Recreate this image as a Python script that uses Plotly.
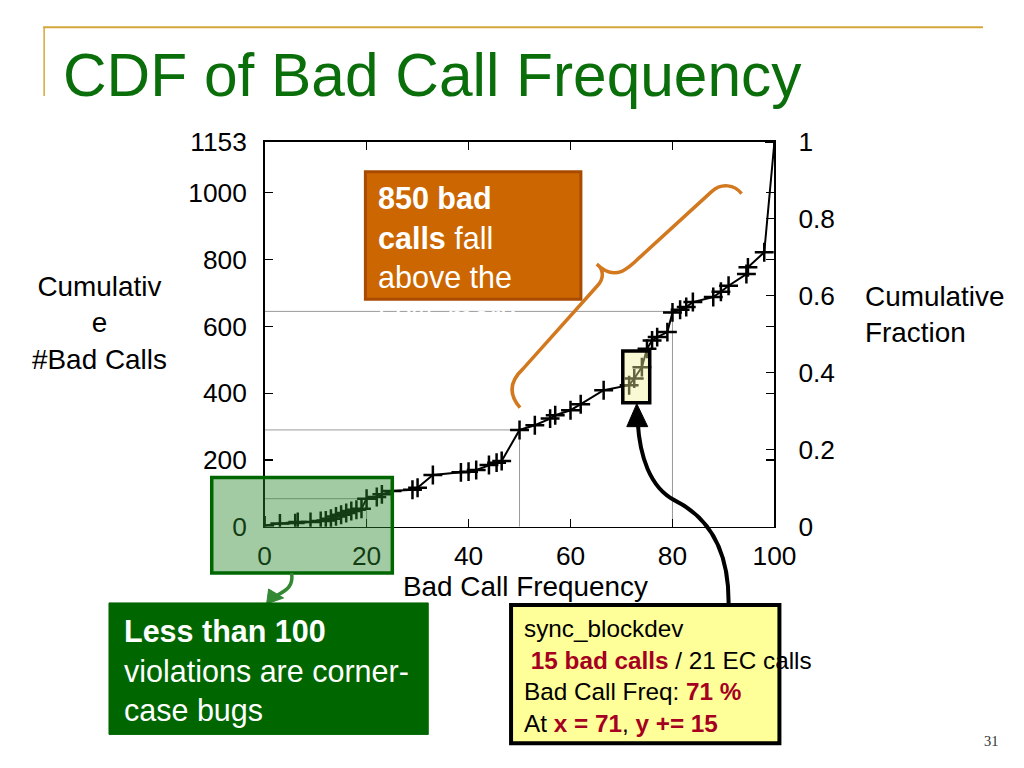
import plotly.graph_objects as go

# ---------------- data ----------------
freq = [0, 3, 6, 6.5, 9, 11, 12, 13, 14, 15, 16, 17, 18, 19, 20, 22, 23, 25, 29, 30,
        33, 38.5, 40, 41.5, 44, 45.5, 46.5, 50, 53, 56, 57, 60, 62, 66.5, 71.5, 72.5,
        74, 75, 76, 77, 79, 80, 81.5, 82.7, 84, 88, 89.5, 91, 94.5, 94.8, 98, 100]
cum_calls = [4, 10, 11, 14, 14, 17, 19, 24, 31, 36, 41, 47, 51, 54, 84, 89, 97, 107, 111, 117,
             155, 163, 165, 170, 185, 192, 197, 290, 304, 324, 334, 349, 367, 409, 424, 444,
             478, 533, 558, 568, 583, 642, 650, 658, 673, 688, 704, 722, 757, 777, 822, 1153]
total_calls = 1153
x_ticks = [0, 20, 40, 60, 80, 100]
y_left_ticks = [0, 200, 400, 600, 800, 1000, 1153]
y_right_ticks = [0, 0.2, 0.4, 0.6, 0.8, 1]
y_right_labels = ["0", "0.2", "0.4", "0.6", "0.8", "1"]
ref_x = [20, 50, 80]
ref_y = [84, 290, 645]

# ---------------- layout helpers ----------------
# Figure fits inside the window with the default 8px body margin.
OFF = 8
W, H = 1024 - 2 * OFF, 768 - 2 * OFF
# calibration of the photographed page (measured): shot = O + S * page
SX, OX = 0.9735, 6.0
SY, OY = 0.964, 13.0
S = (SX + SY) / 2
FONT = "Liberation Sans, Arial, Helvetica, sans-serif"


def px(x):
    return ((x - OX) / SX - OFF) / W


def py(y):
    return 1 - ((y - OY) / SY - OFF) / H


def fs(v):
    return round(v / S, 1)


def svg(segs):
    out = []
    for cmd, pts in segs:
        if not pts:
            out.append(cmd)
            continue
        if cmd == "C":
            out.append("C " + " ".join(f"{px(a):.5f},{py(b):.5f}" for a, b in pts))
        else:
            for a, b in pts:
                out.append(f"{cmd} {px(a):.5f},{py(b):.5f}")
    return " ".join(out)


fig = go.Figure()

fig.add_trace(go.Scatter(
    x=freq, y=cum_calls, mode="lines+markers",
    line=dict(color="black", width=2),
    marker=dict(symbol="cross-thin", size=13.5, line=dict(width=2.5, color="black")),
    showlegend=False, hoverinfo="skip", xaxis="x", yaxis="y"))

fig.add_trace(go.Scatter(
    x=freq, y=[c / total_calls for c in cum_calls], mode="lines",
    line=dict(width=0, color="rgba(0,0,0,0)"),
    showlegend=False, hoverinfo="skip", xaxis="x", yaxis="y2"))

shapes = []
# grey reference lines (data coords)
for rx, ry in zip(ref_x, ref_y):
    shapes.append(dict(type="line", xref="x", yref="y", x0=0, x1=rx, y0=ry, y1=ry,
                       line=dict(color="#9a9a9a", width=1), layer="below"))
    shapes.append(dict(type="line", xref="x", yref="y", x0=rx, x1=rx, y0=0, y1=ry,
                       line=dict(color="#9a9a9a", width=1), layer="below"))

# gold header lines
shapes.append(dict(type="line", xref="paper", yref="paper", x0=px(42), x1=px(984),
                   y0=py(25), y1=py(25), line=dict(color="#D4A73A", width=2)))
shapes.append(dict(type="line", xref="paper", yref="paper", x0=px(43), x1=px(43),
                   y0=py(25), y1=py(94), line=dict(color="#D4A73A", width=1.5)))

# orange box
shapes.append(dict(type="rect", xref="paper", yref="paper", x0=px(365), x1=px(581),
                   y0=py(298), y1=py(170), fillcolor="#CC6600",
                   line=dict(color="#A84B00", width=3)))
# orange brace
shapes.append(dict(type="path", xref="paper", yref="paper",
                   path=svg([("M", [(520, 407)]),
                             ("C", [(508, 393), (510, 380), (523, 368)]),
                             ("L", [(598, 284)]),
                             ("C", [(605, 276), (603, 267), (597, 263)]),
                             ("C", [(604, 270), (612, 274), (622, 270)]),
                             ("C", [(629, 267), (634, 262), (640, 256)]),
                             ("L", [(712, 190)]),
                             ("C", [(722, 181), (735, 183), (742, 192)])]),
                   line=dict(color="#D2781E", width=3.5)))

# green translucent box around low region
shapes.append(dict(type="rect", xref="paper", yref="paper", x0=px(211), x1=px(392),
                   y0=py(573), y1=py(477), fillcolor="rgba(45,136,45,0.44)",
                   line=dict(color="#006600", width=3.5)))
# yellow highlight box
shapes.append(dict(type="rect", xref="paper", yref="paper", x0=px(623), x1=px(650),
                   y0=py(402), y1=py(350), fillcolor="rgba(240,240,150,0.42)",
                   line=dict(color="black", width=3.5)))

# green arrow
shapes.append(dict(type="path", xref="paper", yref="paper",
                   path=svg([("M", [(291, 573)]),
                             ("C", [(293, 585), (287, 590), (277, 595)])]),
                   line=dict(color="#338833", width=3.5)))
shapes.append(dict(type="path", xref="paper", yref="paper",
                   path=svg([("M", [(266, 604)]), ("L", [(268, 589), (283, 598)]), ("Z", [])]),
                   fillcolor="#338833", line=dict(color="#338833", width=1)))

# green text box
shapes.append(dict(type="rect", xref="paper", yref="paper", x0=px(108), x1=px(428),
                   y0=py(735), y1=py(603), fillcolor="#006600",
                   line=dict(color="#006600", width=1)))

# yellow info box
shapes.append(dict(type="rect", xref="paper", yref="paper", x0=px(511), x1=px(780),
                   y0=py(744), y1=py(605), fillcolor="#FFFF99",
                   line=dict(color="black", width=4)))

# black arrow
shapes.append(dict(type="path", xref="paper", yref="paper",
                   path=svg([("M", [(729, 605)]),
                             ("C", [(730, 545), (705, 515), (675, 500)]),
                             ("C", [(650, 487), (640, 455), (638, 422)])]),
                   line=dict(color="black", width=4)))
shapes.append(dict(type="path", xref="paper", yref="paper",
                   path=svg([("M", [(637, 403)]), ("L", [(627, 426), (648, 426)]), ("Z", [])]),
                   fillcolor="black", line=dict(color="black", width=1)))

RED = "#A50021"
ann = []


def A(x, y, text, size, color="black", xanchor="left", yanchor="middle", align="left", family=FONT):
    ann.append(dict(x=px(x), y=py(y), xref="paper", yref="paper", text=text, showarrow=False,
                    xanchor=xanchor, yanchor=yanchor, align=align,
                    font=dict(size=fs(size), color=color, family=family)))


# title
A(60, 73, "CDF of Bad Call Frequency", 58.5, color="#0A6E0A")
# axis titles
A(98, 322, "Cumulativ<br>e<br>#Bad Calls", 27, xanchor="center", align="center")
A(864, 313, "Cumulative<br>Fraction", 27, xanchor="left")
A(525, 586, "Bad Call Frequency", 27, xanchor="center")
# orange box text
A(376, 177, "<b>850 bad</b><br><b>calls</b> fall<br>above the<br>50% mark", 29.5,
  color="white", yanchor="top")
# green box text
A(121, 612, "<b>Less than 100</b><br>violations are corner-<br>case bugs", 29.5,
  color="white", yanchor="top")
# sync box text
A(522, 613, f"sync_blockdev<br> <span style='color:{RED}'><b>15 bad calls</b></span> / 21 EC calls"
  f"<br>Bad Call Freq: <span style='color:{RED}'><b>71 %</b></span>"
  f"<br>At <span style='color:{RED}'><b>x = 71</b></span>, <span style='color:{RED}'><b>y += 15</b></span>",
  23.5, yanchor="top")
# page number
A(993, 742, "31", 14, color="#333333", xanchor="center",
  family="Liberation Serif, Times New Roman, serif")

axis_common = dict(ticks="inside", ticklen=8, tickwidth=1.2, tickcolor="black",
                   showgrid=False, zeroline=False, fixedrange=True,
                   tickfont=dict(size=fs(25.5), color="black", family=FONT))

fig.update_layout(
    width=W, height=H, margin=dict(l=0, r=0, t=0, b=0),
    paper_bgcolor="white", plot_bgcolor="white", showlegend=False,
    xaxis=dict(domain=[px(264), px(775)], range=[0, 100], tickvals=x_ticks,
               showline=True, linecolor="black", linewidth=1.5, mirror="ticks",
               ticklabelstandoff=5, anchor="y", **axis_common),
    yaxis=dict(domain=[py(526.5), py(140)], range=[0, total_calls], tickvals=y_left_ticks,
               showline=True, linecolor="black", linewidth=1.5, mirror="ticks",
               ticklabelstandoff=11, anchor="x", **axis_common),
    yaxis2=dict(domain=[py(526.5), py(140)], range=[0, 1], tickvals=y_right_ticks,
                ticktext=y_right_labels, overlaying="y", side="right", anchor="x",
                showline=False, ticklabelstandoff=23, **axis_common),
    shapes=shapes, annotations=ann,
)

fig.write_html("out.html", config={"displayModeBar": False, "staticPlot": True})
